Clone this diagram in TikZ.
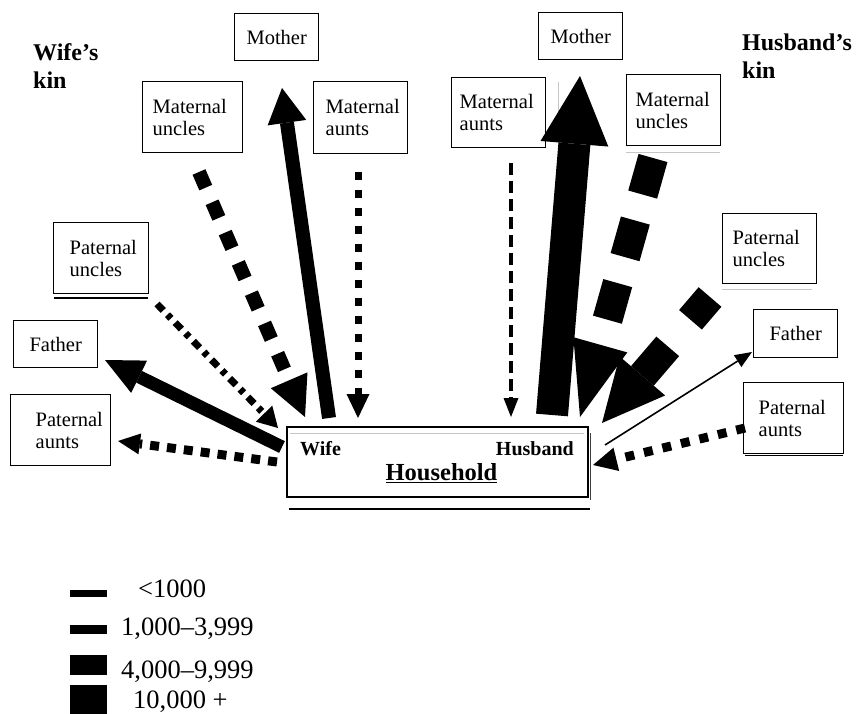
\documentclass[tikz,border=0pt]{standalone}
\usepackage{fontspec}
\setmainfont{Liberation Serif}
\usetikzlibrary{arrows.meta}
\newcommand\kinfont{\fontsize{20.5}{22}\selectfont\hyphenpenalty=10000 }
\newcommand\headfont{\fontsize{24}{28}\selectfont\bfseries}
\newcommand\legfont{\fontsize{26.5}{30}\selectfont}
\begin{document}
\begin{tikzpicture}[x=1pt,y=-1pt,
  boxline/.style={draw, line width=1.4pt},
  kinbox/.style={boxline, anchor=north west, inner ysep=0pt, align=left, font=\kinfont},
  onebox/.style={boxline, anchor=north west, inner sep=0pt, font=\kinfont},
  kinarr/.style n args={3}{line width=#1pt, -{Triangle[length=#2pt,width=#3pt,line width=0pt]}},
  faint/.style={draw=gray!45, line width=0.8pt}]
\useasboundingbox (0,0) rectangle (860,714);

% headings
\node[anchor=north west, inner sep=0pt, align=left, font=\headfont] (wkin) at (33,43.5) {Wife’s\\kin};
\node[anchor=north west, inner sep=0pt, align=left, font=\headfont] (hkin) at (742,33.5) {Husband’s\\kin};

% wife's kin boxes
\node[onebox, minimum width=84pt, minimum height=47pt] (wMother) at (234,13) {\raisebox{-3pt}{Mother}};
\node[kinbox, minimum height=71pt, text width=80pt, inner xsep=10pt] (wMatUnc) at (142,81) {Maternal\\uncles};
\node[kinbox, minimum height=72pt, text width=74pt, inner xsep=10pt] (wMatAunt) at (313,81) {\hspace*{2pt}Maternal\\\hspace*{2pt}aunts};
\node[kinbox, minimum height=71pt, text width=75pt, inner xsep=10pt] (wPatUnc) at (53,222) {\hspace*{6pt}Paternal\\\hspace*{6pt}uncles};
\node[onebox, minimum width=84pt, minimum height=47pt] (wFather) at (13,320) {Father};
\node[kinbox, minimum height=71pt, text width=84pt, inner xsep=8pt] (wPatAunt) at (10,394) {\hspace*{17pt}Paternal\\\hspace*{17pt}aunts};

% husband's kin boxes
\node[onebox, minimum width=84pt, minimum height=47pt] (hMother) at (538,12) {Mother};
\node[kinbox, minimum height=70pt, text width=78pt, inner xsep=8pt] (hMatAunt) at (451,77) {Maternal\\aunts};
\node[kinbox, minimum height=71pt, text width=76pt, inner xsep=9pt] (hMatUnc) at (626,74) {Maternal\\uncles};
\node[kinbox, minimum height=70pt, text width=74pt, inner xsep=10pt] (hPatUnc) at (722,213) {Paternal\\uncles};
\node[onebox, minimum width=84pt, minimum height=48pt] (hFather) at (753,309) {Father};
\node[kinbox, minimum height=71pt, text width=80pt, inner xsep=10pt] (hPatAunt) at (743,382) {\hspace*{5pt}Paternal\\\hspace*{5pt}aunts};

% faint scan lines
\draw[faint] (558,82) -- (558,147);
\draw[faint] (626,152) -- (720,152);
\draw[faint] (722,289) -- (812,289);
\draw[line width=1.2pt] (54,298) -- (148,298);
\draw[line width=1.2pt] (745,455.5) -- (843,455.5);

% household
\node[boxline, line width=1.5pt, anchor=north west, minimum width=301pt, minimum height=70pt, inner sep=0pt] (hh) at (286,426) {};
\draw[faint] (290,433) -- (584,433);
\draw[line width=1.4pt] (289,509) -- (590,509);
\draw[draw=black!75, line width=1pt] (590,433) -- (590,500);
\node[anchor=base, inner sep=0pt, font=\fontsize{24.5}{28}\selectfont\bfseries] (hhtext) at (441.5,480) {\underline{Household}};
\node[anchor=base west, inner sep=0pt, font=\fontsize{20}{22}\selectfont\bfseries] (wife) at (300,455) {Wife};
\node[anchor=base east, inner sep=0pt, font=\fontsize{20}{22}\selectfont\bfseries] (husband) at (574,455) {Husband};

% end points of the flows
\coordinate (wMoS) at (329,418);  \coordinate (wMoE) at (282,88);
\coordinate (wMAS) at (358,172);  \coordinate (wMAE) at (358,418);
\coordinate (wMUS) at (199,172);  \coordinate (wMUE) at (305,417);
\coordinate (wPUS) at (157,304);  \coordinate (wPUE) at (278,428);
\coordinate (wFaS) at (282,447);  \coordinate (wFaE) at (105,360);
\coordinate (wPAS) at (277,462);  \coordinate (wPAE) at (118,441);
\coordinate (hMAS) at (511,163);  \coordinate (hMAE) at (511,417);
\coordinate (hMoS) at (552,415);  \coordinate (hMoE) at (580,76);
\coordinate (hMUS) at (653,158);  \coordinate (hMUE) at (580,417);
\coordinate (hPUS) at (710,297);  \coordinate (hPUE) at (602,423);
\coordinate (hFaS) at (605,445);  \coordinate (hFaE) at (752,352);
\coordinate (hPAS) at (745,428);  \coordinate (hPAE) at (593,465);

% wife's side flows
\draw[kinarr={14}{35}{39}] (wMoS) -- (wMoE);
\draw[kinarr={7}{24}{23}, dash pattern=on 8pt off 10pt] (wMAS) -- (wMAE);
\draw[kinarr={14}{40}{40}, dash pattern=on 17pt off 16pt] (wMUS) -- (wMUE);
\draw[kinarr={7}{20}{23}, dash pattern=on 9pt off 6pt on 5pt off 6pt] (wPUS) -- (wPUE);
\draw[kinarr={13}{38}{36}] (wFaS) -- (wFaE);
\draw[kinarr={9}{22}{21}, dash pattern=on 9pt off 8pt] (wPAS) -- (wPAE);

% husband's side flows
\draw[kinarr={4}{19}{15}, dash pattern=on 12pt off 6pt] (hMAS) -- (hMAE);
\draw[kinarr={32}{68}{68}] (hMoS) -- (hMoE);
\draw[kinarr={30}{75}{56}, dash pattern=on 38pt off 27pt] (hMUS) -- (hMUE);
\draw[kinarr={30}{62}{60}, dash pattern=on 30pt off 35pt on 60pt off 10pt] (hPUS) -- (hPUE);
\draw[kinarr={1.6}{17}{14}] (hFaS) -- (hFaE);
\draw[kinarr={9}{24}{24}, dash pattern=on 9pt off 10pt] (hPAS) -- (hPAE);

% legend
\fill (70,589.5) rectangle (107,597);
\fill (70,625) rectangle (107,634);
\fill (70,655) rectangle (107,675);
\fill (70,685) rectangle (107,720);
\node[anchor=base west, inner sep=0pt, font=\legfont] (l1) at (138,597) {<1000};
\node[anchor=base west, inner sep=0pt, font=\legfont] (l2) at (121,635) {1,000–3,999};
\node[anchor=base west, inner sep=0pt, font=\legfont] (l3) at (121,678) {4,000–9,999};
\node[anchor=base west, inner sep=0pt, font=\legfont] (l4) at (133,708) {10,000 +};
\end{tikzpicture}
\end{document}
